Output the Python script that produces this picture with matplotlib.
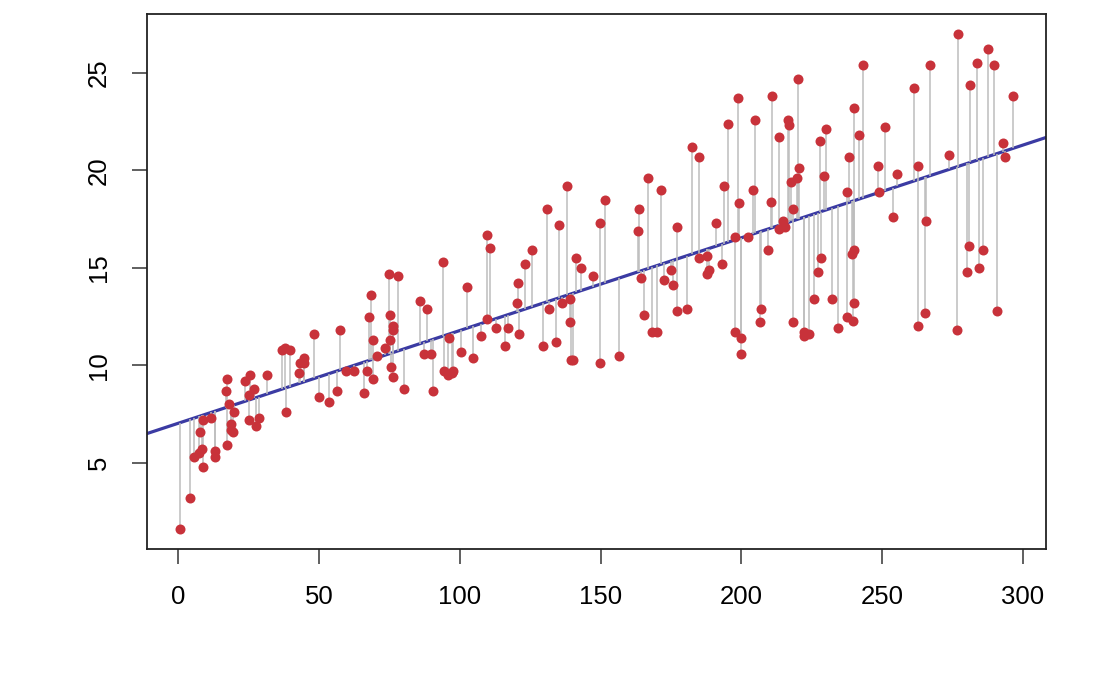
import numpy as np
import matplotlib
matplotlib.use("Agg")
import matplotlib.pyplot as plt

tv = [230.1, 44.5, 17.2, 151.5, 180.8, 8.7, 57.5, 120.2, 8.6, 199.8,
      66.1, 214.7, 23.8, 97.5, 204.1, 195.4, 67.8, 281.4, 69.2, 147.3,
      218.4, 237.4, 13.2, 228.3, 62.3, 262.9, 142.9, 240.1, 248.8, 70.6,
      292.9, 112.9, 97.2, 265.6, 95.7, 290.7, 266.9, 74.7, 43.1, 228.0,
      202.5, 177.0, 293.6, 206.9, 25.1, 175.1, 89.7, 239.9, 227.2, 66.9,
      199.8, 100.4, 216.4, 182.6, 262.7, 198.9, 7.3, 136.2, 210.8, 210.7,
      53.5, 261.3, 239.3, 102.7, 131.1, 69.0, 31.5, 139.3, 237.4, 216.8,
      199.1, 109.8, 26.8, 129.4, 213.4, 16.9, 27.5, 120.5, 5.4, 116.0,
      76.4, 239.8, 75.3, 68.4, 213.5, 193.2, 76.3, 110.7, 88.3, 109.8,
      134.3, 28.6, 217.7, 250.9, 107.4, 163.3, 197.6, 184.9, 289.7, 135.2,
      222.4, 296.4, 280.2, 187.9, 238.2, 137.9, 25.0, 90.4, 13.1, 255.4,
      225.8, 241.7, 175.7, 209.6, 78.2, 75.1, 139.2, 76.4, 125.7, 19.4,
      141.3, 18.8, 224.0, 123.1, 229.5, 87.2, 7.8, 80.2, 220.3, 59.6,
      0.7, 265.2, 8.4, 219.8, 36.9, 48.3, 25.6, 273.7, 43.0, 184.9,
      73.4, 193.7, 220.5, 104.6, 96.2, 140.3, 240.1, 243.2, 38.0, 44.7,
      280.7, 121.0, 197.6, 171.3, 187.8, 4.1, 93.9, 149.8, 11.7, 131.7,
      172.5, 85.7, 188.4, 163.5, 117.2, 234.5, 17.9, 206.8, 215.4, 284.3,
      50.0, 164.5, 19.6, 168.4, 222.4, 276.9, 248.4, 170.2, 276.7, 165.6,
      156.6, 218.5, 56.2, 287.6, 253.8, 205.0, 139.5, 191.1, 286.0, 18.7,
      39.5, 75.5, 17.2, 166.8, 149.7, 38.2, 94.2, 177.0, 283.6, 232.1]

sales = [22.1, 10.4, 9.3, 18.5, 12.9, 7.2, 11.8, 13.2, 4.8, 10.6,
         8.6, 17.4, 9.2, 9.7, 19.0, 22.4, 12.5, 24.4, 11.3, 14.6,
         18.0, 12.5, 5.6, 15.5, 9.7, 12.0, 15.0, 15.9, 18.9, 10.5,
         21.4, 11.9, 9.6, 17.4, 9.5, 12.8, 25.4, 14.7, 10.1, 21.5,
         16.6, 17.1, 20.7, 12.9, 8.5, 14.9, 10.6, 23.2, 14.8, 9.7,
         11.4, 10.7, 22.6, 21.2, 20.2, 23.7, 5.5, 13.2, 23.8, 18.4,
         8.1, 24.2, 15.7, 14.0, 18.0, 9.3, 9.5, 13.4, 18.9, 22.3,
         18.3, 12.4, 8.8, 11.0, 17.0, 8.7, 6.9, 14.2, 5.3, 11.0,
         11.8, 12.3, 11.3, 13.6, 21.7, 15.2, 12.0, 16.0, 12.9, 16.7,
         11.2, 7.3, 19.4, 22.2, 11.5, 16.9, 11.7, 15.5, 25.4, 17.2,
         11.7, 23.8, 14.8, 14.7, 20.7, 19.2, 7.2, 8.7, 5.3, 19.8,
         13.4, 21.8, 14.1, 15.9, 14.6, 12.6, 12.2, 9.4, 15.9, 6.6,
         15.5, 7.0, 11.6, 15.2, 19.7, 10.6, 6.6, 8.8, 24.7, 9.7,
         1.6, 12.7, 5.7, 19.6, 10.8, 11.6, 9.5, 20.8, 9.6, 20.7,
         10.9, 19.2, 20.1, 10.4, 11.4, 10.3, 13.2, 25.4, 10.9, 10.1,
         16.1, 11.6, 16.6, 19.0, 15.6, 3.2, 15.3, 10.1, 7.3, 12.9,
         14.4, 13.3, 14.9, 18.0, 11.9, 11.9, 8.0, 12.2, 17.1, 15.0,
         8.4, 14.5, 7.6, 11.7, 11.5, 27.0, 20.2, 11.7, 11.8, 12.6,
         10.5, 12.2, 8.7, 26.2, 17.6, 22.6, 10.3, 17.3, 15.9, 6.7,
         10.8, 9.9, 5.9, 19.6, 17.3, 7.6, 9.7, 12.8, 25.5, 13.4]

x_ticks = [0, 50, 100, 150, 200, 250, 300]
y_ticks = [5, 10, 15, 20, 25]

plt.rcParams['font.family'] = ['Liberation Sans', 'DejaVu Sans']

x = np.array(tv)
y = np.array(sales)
slope, intercept = np.polyfit(x, y, 1)
fitted = intercept + slope * x

fig = plt.figure(figsize=(10.94, 6.76), dpi=100)
ax = fig.add_axes([147/1094, 1-549/676, (1046-147)/1094, (549-14)/676])

xr = x.max() - x.min()
yr = y.max() - y.min()
xlim = (x.min() - 0.04*xr, x.max() + 0.04*xr)
ylim = (y.min() - 0.04*yr, y.max() + 0.04*yr)

xx = np.array(xlim)
ax.plot(xx, intercept + slope*xx, color='#3b3ba3', lw=2.3, zorder=2)
ax.vlines(x, fitted, y, color='#bdbdbd', lw=1.1, zorder=3)
ax.plot(x, y, 'o', color='#c8323a', markersize=7.2, markeredgewidth=0, zorder=4)

ax.set_xlim(xlim)
ax.set_ylim(ylim)
ax.set_xticks(x_ticks)
ax.set_yticks(y_ticks)
ax.set_xticklabels([str(t) for t in x_ticks])
ax.set_yticklabels([str(t) for t in y_ticks], rotation=90, va='center')
ax.tick_params(axis='both', length=11, width=1.2, color='#444444',
               labelsize=18.5, labelcolor='black')
ax.tick_params(axis='x', pad=15)
ax.tick_params(axis='y', pad=15)
for s in ax.spines.values():
    s.set_color('#222222')
    s.set_linewidth(1.3)

fig.savefig('out.png', dpi=100)
